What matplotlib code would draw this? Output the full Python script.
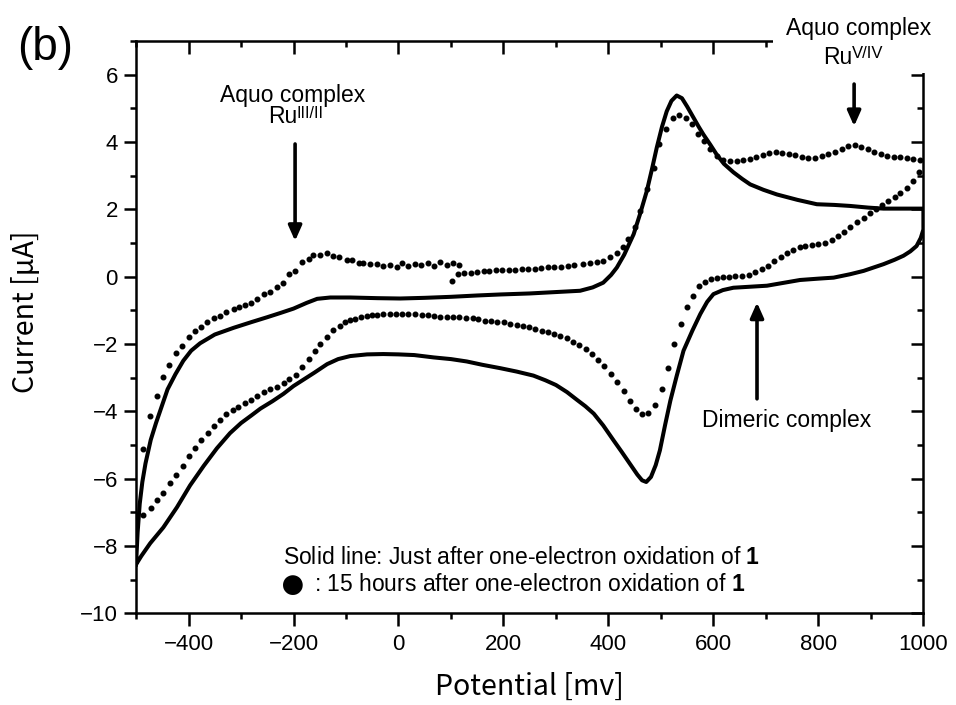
import matplotlib
matplotlib.use('Agg')
import matplotlib.pyplot as plt
from matplotlib.patches import Rectangle

plt.rcParams['font.family'] = ['Liberation Sans', 'DejaVu Sans']
plt.rcParams['mathtext.fontset'] = 'custom'
plt.rcParams['mathtext.rm'] = 'Liberation Sans'
plt.rcParams['mathtext.bf'] = 'Liberation Sans:bold'
plt.rcParams['mathtext.it'] = 'Liberation Sans:italic'

W, H = 956, 705

# solid line: just after one-electron oxidation (forward then reverse scan)
solid_x = [-500, -497, -493, -488, -482, -472, -462, -450, -440, -425, -410, -395, -378, -350,
           -314, -280, -251, -225, -200, -175, -155, -130, -92, -40, 3, 50, 100, 150, 194, 250,
           300, 346, 370, 390, 405, 416, 430, 448, 460, 473, 483, 492, 502, 511, 520, 530, 540,
           550, 562, 572, 581, 594, 606, 620, 638, 655, 670, 695, 721, 760, 797, 830, 860, 895,
           924, 960, 1000,
           1000, 995, 987, 975, 962, 945, 924, 905, 886, 860, 829, 800, 765, 735, 702, 670, 638,
           618, 600, 588, 575, 560, 543, 530, 518, 508, 498, 490, 481, 472, 464, 455, 441, 425,
           410, 390, 372, 356, 340, 321, 300, 280, 257, 225, 194, 160, 130, 100, 67, 30, 0, -29,
           -60, -92, -115, -136, -160, -180, -200, -219, -240, -263, -280, -300, -321, -346,
           -371, -397, -422, -448, -473, -490, -500]
solid_y = [-8.55, -7.6, -6.75, -6.1, -5.55, -4.85, -4.35, -3.8, -3.35, -2.9, -2.5, -2.2, -1.98,
           -1.72, -1.52, -1.35, -1.21, -1.08, -0.95, -0.78, -0.66, -0.62, -0.62, -0.64, -0.65,
           -0.63, -0.6, -0.56, -0.53, -0.5, -0.46, -0.42, -0.32, -0.18, 0.05, 0.27, 0.65, 1.26,
           1.85, 2.54, 3.2, 3.83, 4.45, 4.91, 5.22, 5.38, 5.3, 5.05, 4.72, 4.45, 4.22, 3.92,
           3.63, 3.35, 3.1, 2.9, 2.74, 2.58, 2.44, 2.28, 2.15, 2.13, 2.1, 2.05, 2.02, 2.02, 2.02,
           1.4, 1.15, 0.91, 0.75, 0.62, 0.5, 0.37, 0.27, 0.17, 0.07, -0.03, -0.06, -0.1, -0.18,
           -0.27, -0.3, -0.33, -0.4, -0.52, -0.75, -1.11, -1.6, -2.2, -2.95, -3.68, -4.4, -5.16,
           -5.6, -5.95, -6.1, -6.05, -5.88, -5.56, -5.2, -4.87, -4.42, -4.07, -3.85, -3.66,
           -3.43, -3.22, -3.08, -2.94, -2.82, -2.72, -2.62, -2.52, -2.45, -2.4, -2.33, -2.31,
           -2.3, -2.31, -2.36, -2.45, -2.6, -2.85, -3.05, -3.25, -3.48, -3.7, -3.92, -4.12,
           -4.35, -4.65, -5.1, -5.62, -6.2, -6.85, -7.45, -7.92, -8.3, -8.55]

# dots: 15 hours after one-electron oxidation, forward scan
dot_fwd_x = [-486, -473, -460, -449, -437, -424, -413, -400, -387, -376, -365, -352, -340, -328,
             -314, -303, -292, -281, -270, -257, -244, -232, -220, -208, -197, -184, -171, -162,
             -149, -136, -125, -114, -98, -89, -76, -67, -54, -41, -29, -16, -3, 6, 19, 32, 43,
             56, 68, 79, 92, 104, 116,
             102, 114, 125, 138, 149, 162, 173, 186, 197, 210, 222, 235, 247, 260, 272, 285, 297,
             310, 322, 335, 352, 365, 378, 390, 403, 416, 427, 438, 451, 460, 473, 486, 497, 510,
             523, 535, 547, 559, 570, 582, 593, 606, 619, 631, 644, 656, 669, 681, 694, 706, 719,
             731, 744, 756, 769, 781, 794, 806, 819, 831, 844, 856, 869, 881, 894, 906, 919, 931,
             944, 956, 969, 981, 994]
dot_fwd_y = [-5.11, -4.15, -3.56, -2.99, -2.64, -2.28, -2.05, -1.78, -1.63, -1.49, -1.36, -1.23,
             -1.16, -1.06, -0.96, -0.89, -0.84, -0.77, -0.67, -0.52, -0.47, -0.32, -0.19, 0.07,
             0.17, 0.42, 0.52, 0.64, 0.65, 0.69, 0.62, 0.59, 0.5, 0.49, 0.4, 0.4, 0.37, 0.37,
             0.32, 0.35, 0.3, 0.4, 0.33, 0.38, 0.35, 0.4, 0.33, 0.42, 0.34, 0.41, 0.35,
             -0.14, 0.07, 0.1, 0.12, 0.14, 0.16, 0.17, 0.19, 0.19, 0.21, 0.21, 0.22, 0.23, 0.24,
             0.26, 0.28, 0.29, 0.3, 0.32, 0.34, 0.37, 0.39, 0.42, 0.47, 0.57, 0.69, 0.88, 1.11,
             1.47, 1.95, 2.59, 3.23, 3.93, 4.39, 4.7, 4.79, 4.71, 4.52, 4.25, 4.02, 3.8, 3.58,
             3.45, 3.42, 3.42, 3.45, 3.5, 3.55, 3.62, 3.67, 3.69, 3.68, 3.65, 3.6, 3.55, 3.52,
             3.53, 3.57, 3.63, 3.7, 3.8, 3.87, 3.9, 3.86, 3.78, 3.7, 3.63, 3.58, 3.56, 3.54,
             3.52, 3.5, 3.45]

# dots: reverse scan
dot_rev_x = [992, 981, 968, 956, 946, 933, 921, 910, 898, 886, 873, 860, 849, 837, 825, 813, 800,
             787, 775, 765, 752, 740, 728, 716, 704, 692, 679, 667, 654, 641, 629, 619, 606, 596,
             584, 573, 562, 550, 538, 525, 513, 502, 489, 476, 464, 453, 441, 429, 417, 405, 392,
             381, 368, 357, 344, 332, 321, 308, 297, 285, 273, 260, 248, 238, 225, 213, 201, 188,
             176, 164, 152, 141, 128, 116, 104, 92, 80, 67, 56, 44, 32, 19, 7, -5, -17, -29, -41,
             -51, -60, -72, -82, -93, -102, -112, -125, -136, -149, -159, -171, -184, -196, -208,
             -219, -232, -244, -256, -269, -281, -292, -305, -316, -328, -340, -351, -363, -376,
             -387, -399, -411, -424, -436, -448, -460, -472, -486]
dot_rev_y = [3.12, 2.84, 2.64, 2.49, 2.36, 2.25, 2.12, 2.0, 1.9, 1.75, 1.62, 1.48, 1.33, 1.2,
             1.08, 1.01, 0.96, 0.94, 0.91, 0.88, 0.78, 0.69, 0.59, 0.47, 0.32, 0.22, 0.14, 0.05,
             0.02, 0.01, 0.0, -0.01, -0.03, -0.08, -0.17, -0.27, -0.57, -0.89, -1.41, -2.0, -2.71,
             -3.33, -3.8, -4.06, -4.07, -3.93, -3.7, -3.4, -3.14, -2.89, -2.66, -2.47, -2.3,
             -2.15, -2.03, -1.93, -1.83, -1.76, -1.7, -1.65, -1.61, -1.56, -1.51, -1.47, -1.44,
             -1.4, -1.36, -1.34, -1.33, -1.31, -1.27, -1.24, -1.23, -1.21, -1.2, -1.19, -1.19,
             -1.16, -1.14, -1.13, -1.11, -1.11, -1.11, -1.11, -1.11, -1.12, -1.13, -1.14, -1.16,
             -1.21, -1.26, -1.29, -1.36, -1.46, -1.59, -1.78, -2.0, -2.2, -2.44, -2.69, -2.91,
             -3.04, -3.17, -3.27, -3.35, -3.43, -3.54, -3.65, -3.75, -3.86, -3.96, -4.07, -4.25,
             -4.44, -4.64, -4.85, -5.09, -5.34, -5.63, -5.88, -6.12, -6.42, -6.64, -6.87, -7.09]

x_major = [-400, -200, 0, 200, 400, 600, 800, 1000]
y_major = [-10, -8, -6, -4, -2, 0, 2, 4, 6]


def px(x, y):
    # pixel position (from top-left) to figure fraction
    return x / W, 1 - y / H


fig = plt.figure(figsize=(W / 100, H / 100), dpi=100)
ax = fig.add_axes([0.1423, 0.1301, 0.8236, 0.8118])

ax.plot(solid_x, solid_y, color='black', lw=2.9, solid_joinstyle='round', zorder=3)
ax.plot(dot_fwd_x, dot_fwd_y, ls='none', marker='o', ms=3.3, color='black', zorder=3)
ax.plot(dot_rev_x, dot_rev_y, ls='none', marker='o', ms=3.3, color='black', zorder=3)

ax.set_xlim(-500, 1000)
ax.set_ylim(-10, 7)
ax.set_xticks(x_major)
ax.set_xticks(range(-500, 1001, 100), minor=True)
ax.set_yticks(y_major)
ax.set_yticks(range(-9, 8, 2), minor=True)

for s in ax.spines.values():
    s.set_linewidth(1.8)
ax.tick_params(which='both', width=1.8, labelsize=16, top=True, right=True)
ax.tick_params(which='major', length=9)
ax.tick_params(which='minor', length=4.3)
ax.tick_params(axis='x', which='both', direction='out', pad=6)
ax.tick_params(axis='y', which='both', direction='out', pad=4)
# top and right ticks point inward
for t in ax.xaxis.get_major_ticks() + ax.xaxis.get_minor_ticks():
    t.tick2line.set_marker(3)
for t in ax.yaxis.get_major_ticks() + ax.yaxis.get_minor_ticks():
    t.tick2line.set_marker(0)

cjk = ['Noto Sans CJK JP', 'DejaVu Sans']
ax.set_xlabel('Potential [mv]', family=cjk, fontsize=20.5)
ax.set_ylabel('Current [μA]', family=cjk, fontsize=20.5)
ax.xaxis.set_label_coords(0.5, -0.103)
ax.yaxis.set_label_coords(-0.121, 0.527)

# white patch hiding the top-right corner of the frame
fig.add_artist(Rectangle(px(773, 73), 1, 1, transform=fig.transFigure,
                         facecolor='white', edgecolor='none', zorder=5))

fs = 16.5
arrow = dict(arrowstyle='-|>,head_length=0.45,head_width=0.2', lw=2.6, color='black',
             shrinkA=0, shrinkB=0, mutation_scale=20)

# Aquo complex Ru(III/II)
fig.text(*px(293, 102), 'Aquo complex', fontsize=fs, ha='center', va='baseline', zorder=6)
fig.text(*px(297, 123), 'Ru', fontsize=fs, ha='right', va='baseline', zorder=6)
fig.text(*px(297, 106), 'III/II', fontsize=11.5, ha='left', va='top', zorder=6)
ax.annotate('', xy=(-197, 1.06), xytext=(-197, 3.94), arrowprops=arrow)

# Aquo complex Ru(V/IV)
fig.text(*px(859, 35), 'Aquo complex', fontsize=fs, ha='center', va='baseline', zorder=6)
fig.text(*px(852, 64), 'Ru', fontsize=fs, ha='right', va='baseline', zorder=6)
fig.text(*px(852, 46), 'V/IV', fontsize=12, ha='left', va='top', zorder=6)
ax.annotate('', xy=(868, 4.47), xytext=(868, 5.72), arrowprops=arrow)

# dimeric complex
fig.text(*px(787, 427), 'Dimeric complex', fontsize=fs, ha='center', va='baseline', zorder=6)
ax.annotate('', xy=(683, -0.77), xytext=(683, -3.63), arrowprops=arrow)

# legend text
fig.text(*px(283, 564), 'Solid line: Just after one-electron oxidation of $\\mathbf{1}$',
         fontsize=fs, ha='left', va='baseline')
fig.text(*px(293, 586), '●', fontsize=33, ha='center', va='center')
fig.text(*px(314, 591), ': 15 hours after one-electron oxidation of $\\mathbf{1}$',
         fontsize=fs, ha='left', va='baseline')

fig.text(*px(17, 48), '(b)', fontsize=33, ha='left', va='center')

fig.savefig('out.png', dpi=100)
